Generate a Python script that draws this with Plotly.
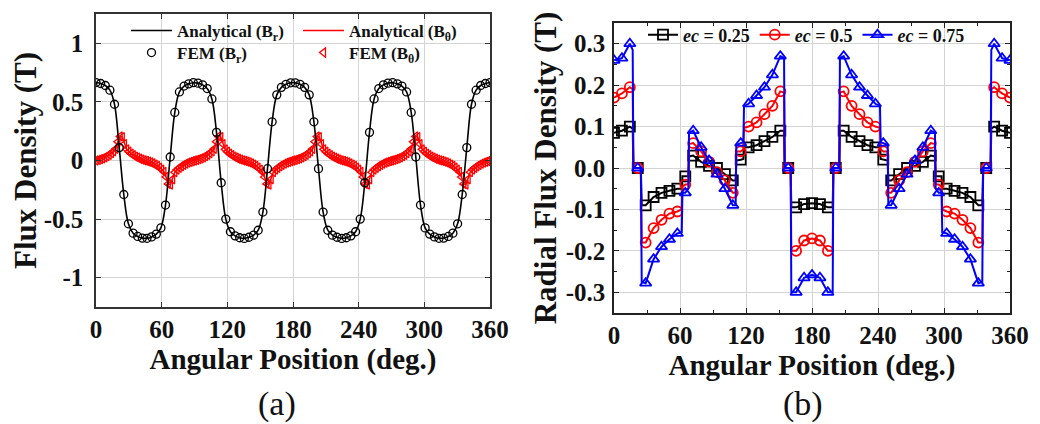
import plotly.graph_objects as go

# ---------------- Panel (a): analytical vs FEM ----------------
theta_br = [0, 4.2, 8.5, 12.7, 16.9, 21.2, 25.4, 29.6, 33.9, 38.1, 42.4, 46.6, 50.8, 55.1,
            59.3, 63.5, 67.8, 72.0, 76.2, 80.5, 84.7, 88.9, 93.2, 97.4, 101.6, 105.9, 110.1,
            114.4, 118.6, 122.8, 127.1, 131.3, 135.5, 139.8, 144.0, 148.2, 152.5, 156.7, 160.9,
            165.2, 169.4, 173.6, 177.9, 182.1, 186.4, 190.6, 194.8, 199.1, 203.3, 207.5, 211.8,
            216.0, 220.2, 224.5, 228.7, 232.9, 237.2, 241.4, 245.6, 249.9, 254.1, 258.4, 262.6,
            266.8, 271.1, 275.3, 279.5, 283.8, 288.0, 292.2, 296.5, 300.7, 304.9, 309.2, 313.4,
            317.6, 321.9, 326.1, 330.4, 334.6, 338.8, 343.1, 347.3, 351.5, 355.8, 360.0]

br_analytical = [0.665, 0.657, 0.64, 0.60, 0.48, 0.11, -0.29, -0.54, -0.62, -0.648, -0.662,
                 -0.664, -0.652, -0.628, -0.575, -0.38, 0.03, 0.41, 0.585, 0.635, 0.654, 0.664,
                 0.66, 0.645, 0.614, 0.525, 0.24, -0.19, -0.50, -0.608, -0.643, -0.659, -0.665,
                 -0.655, -0.637, -0.595, -0.44, -0.07, 0.33, 0.56, 0.624, 0.65, 0.663, 0.663,
                 0.65, 0.624, 0.56, 0.33, -0.07, -0.44, -0.595, -0.637, -0.655, -0.665, -0.659,
                 -0.643, -0.608, -0.50, -0.19, 0.24, 0.525, 0.614, 0.645, 0.66, 0.664, 0.654,
                 0.635, 0.585, 0.41, 0.03, -0.38, -0.575, -0.628, -0.652, -0.664, -0.662, -0.648,
                 -0.62, -0.54, -0.29, 0.11, 0.48, 0.60, 0.64, 0.657, 0.665]
br_fem = list(br_analytical)

theta_bt = list(range(0, 361, 2))
bt_analytical = [
    0, .005, .011, .018, .027, .037, .049, .062, .078, .10, .16, .205, .20, .14, .095, .075,
    .058, .045, .034, .024, .015, .008, .002, -.003, -.009, -.016, -.025, -.035, -.046, -.06,
    -.077, -.097, -.14, -.20, -.205, -.16, -.10, -.078, -.062, -.049, -.037, -.027, -.018,
    -.011, -.005,
    0, .005, .011, .018, .027, .037, .049, .062, .078, .10, .16, .205, .20, .14, .095, .075,
    .058, .045, .034, .024, .015, .008, .002, -.003, -.009, -.016, -.025, -.035, -.046, -.06,
    -.077, -.097, -.14, -.20, -.205, -.16, -.10, -.078, -.062, -.049, -.037, -.027, -.018,
    -.011, -.005,
    0, .005, .011, .018, .027, .037, .049, .062, .078, .10, .16, .205, .20, .14, .095, .075,
    .058, .045, .034, .024, .015, .008, .002, -.003, -.009, -.016, -.025, -.035, -.046, -.06,
    -.077, -.097, -.14, -.20, -.205, -.16, -.10, -.078, -.062, -.049, -.037, -.027, -.018,
    -.011, -.005,
    0, .005, .011, .018, .027, .037, .049, .062, .078, .10, .16, .205, .20, .14, .095, .075,
    .058, .045, .034, .024, .015, .008, .002, -.003, -.009, -.016, -.025, -.035, -.046, -.06,
    -.077, -.097, -.14, -.20, -.205, -.16, -.10, -.078, -.062, -.049, -.037, -.027, -.018,
    -.011, -.005,
    0]
bt_fem = list(bt_analytical)

y_ticks_a = [-1, -0.5, 0, 0.5, 1]
y_ticktext_a = ["-1", "-0.5", "0", "0.5", "1"]
x_ticks = [0, 60, 120, 180, 240, 300, 360]
x_ticktext = ["0", "60", "120", "180", "240", "300", "360"]

# ---------------- Panel (b): eccentricity ----------------
theta_m = [0, 7.2, 14.4, 21.6, 28.8, 36, 43.2, 50.4, 57.6, 64.8, 72, 79.2, 86.4, 93.6, 100.8,
           108, 115.2, 122.4, 129.6, 136.8, 144, 151.2, 158.4, 165.6, 172.8, 180, 187.2, 194.4,
           201.6, 208.8, 216, 223.2, 230.4, 237.6, 244.8, 252, 259.2, 266.4, 273.6, 280.8, 288,
           295.2, 302.4, 309.6, 316.8, 324, 331.2, 338.4, 345.6, 352.8, 360]
b_ec075 = [0.26, 0.265, 0.30, 0.0, -0.278, -0.22, -0.19, -0.172, -0.158, -0.06, 0.09, 0.05,
           0.018, -0.015, -0.05, -0.09, 0.06, 0.155, 0.175, 0.195, 0.225, 0.27, 0.0, -0.30,
           -0.265, -0.258, -0.265, -0.30, 0.0, 0.27, 0.225, 0.195, 0.175, 0.155, 0.06, -0.09,
           -0.05, -0.015, 0.018, 0.05, 0.09, -0.06, -0.158, -0.172, -0.19, -0.22, -0.278, 0.0,
           0.30, 0.265, 0.26]
b_ec05 = [0.17, 0.18, 0.195, 0.0, -0.18, -0.145, -0.125, -0.11, -0.105, -0.04, 0.06, 0.04,
          0.015, -0.01, -0.03, -0.06, 0.04, 0.10, 0.11, 0.13, 0.15, 0.185, 0.0, -0.20, -0.175,
          -0.17, -0.175, -0.20, 0.0, 0.185, 0.15, 0.13, 0.11, 0.10, 0.04, -0.06, -0.03, -0.01,
          0.015, 0.04, 0.06, -0.04, -0.105, -0.11, -0.125, -0.145, -0.18, 0.0, 0.195, 0.18, 0.17]
b_ec025 = [0.085, 0.09, 0.10, 0.0, -0.09, -0.07, -0.06, -0.055, -0.05, -0.02, 0.03, 0.015,
           0.005, 0.0, -0.015, -0.03, 0.02, 0.05, 0.055, 0.065, 0.075, 0.09, 0.0, -0.095,
           -0.087, -0.085, -0.087, -0.095, 0.0, 0.09, 0.075, 0.065, 0.055, 0.05, 0.02, -0.03,
           -0.015, 0.0, 0.005, 0.015, 0.03, -0.02, -0.05, -0.055, -0.06, -0.07, -0.09, 0.0,
           0.10, 0.09, 0.085]

# extra line vertices at the steep slot-edge transitions (between markers)
theta_t = [17.0, 17.6, 24.4, 25.2, 61.6, 62.2, 67.6, 68.2, 110.6, 111.2, 117.6, 118.2,
           154.6, 155.2, 160.6, 161.2, 198.8, 199.4, 204.8, 205.4, 241.8, 242.4, 248.8, 249.4,
           291.8, 292.4, 297.8, 298.4, 334.8, 335.6, 342.4, 343.0]
t_ec075 = [0.285, 0, 0, -0.275, -0.155, -0.06, -0.05, 0.085, -0.09, 0.055, 0.062, 0.15,
           0.265, 0, 0, -0.30, -0.30, 0, 0, 0.265, 0.15, 0.062, 0.055, -0.09, 0.085, -0.05,
           -0.06, -0.155, -0.275, 0, 0, 0.285]
t_ec05 = [0.19, 0, 0, -0.18, -0.10, -0.045, -0.04, 0.058, -0.06, 0.04, 0.045, 0.097, 0.182,
          0, 0, -0.20, -0.20, 0, 0, 0.182, 0.097, 0.045, 0.04, -0.06, 0.058, -0.04, -0.045,
          -0.10, -0.18, 0, 0, 0.19]
t_ec025 = [0.095, 0, 0, -0.09, -0.05, -0.02, -0.02, 0.028, -0.03, 0.018, 0.022, 0.05, 0.09,
           0, 0, -0.095, -0.095, 0, 0, 0.09, 0.05, 0.022, 0.018, -0.03, 0.028, -0.02, -0.02,
           -0.05, -0.09, 0, 0, 0.095]

y_ticks_b = [-0.3, -0.2, -0.1, 0.0, 0.1, 0.2, 0.3]
y_ticktext_b = ["-0.3", "-0.2", "-0.1", "0.0", "0.1", "0.2", "0.3"]

series_b = [
    ("<i>ec</i> = 0.25", b_ec025, t_ec025, "#000000", "square-open"),
    ("<i>ec</i> = 0.5", b_ec05, t_ec05, "#ff0000", "circle-open"),
    ("<i>ec</i> = 0.75", b_ec075, t_ec075, "#0000ff", "triangle-up-open"),
]


def merged(xa, ya, xb, yb):
    pts = sorted(zip(list(xa) + list(xb), list(ya) + list(yb)))
    return [p[0] for p in pts], [p[1] for p in pts]


# page body has an 8px margin: work in window pixels and convert
OFF = 8
W, H = 1040 - OFF, 424 - OFF


def fx(px):
    return (px - OFF) / W


def fy(py):
    return 1 - (py - OFF) / H


SERIF = "Liberation Serif"
fig = go.Figure()

# panel (a)
fig.add_trace(go.Scatter(x=theta_bt, y=bt_analytical, mode="lines",
                         line=dict(color="#ff0000", width=1.5),
                         name="Analytical (B<sub>θ</sub>)", legend="legend", legendrank=2,
                         xaxis="x", yaxis="y"))
fig.add_trace(go.Scatter(x=theta_bt, y=bt_fem, mode="markers",
                         marker=dict(symbol="triangle-left-open", size=8, color="#ff0000",
                                     line=dict(width=1.3)),
                         name="FEM (B<sub>θ</sub>)", legend="legend2", legendrank=2,
                         xaxis="x", yaxis="y"))
fig.add_trace(go.Scatter(x=theta_br, y=br_analytical, mode="lines", line_shape="spline",
                         line=dict(color="#000000", width=1.6),
                         name="Analytical (B<sub>r</sub>)", legend="legend", legendrank=1,
                         xaxis="x", yaxis="y"))
fig.add_trace(go.Scatter(x=theta_br, y=br_fem, mode="markers",
                         marker=dict(symbol="circle-open", size=8, color="#000000",
                                     line=dict(width=1.3)),
                         name="FEM (B<sub>r</sub>)", legend="legend2", legendrank=1,
                         xaxis="x", yaxis="y"))

# panel (b)
for name, ym, yt, col, sym in series_b:
    lx, ly = merged(theta_m, ym, theta_t, yt)
    fig.add_trace(go.Scatter(x=lx, y=ly, mode="lines", line=dict(color=col, width=2),
                             showlegend=False, xaxis="x2", yaxis="y2", hoverinfo="skip"))
    fig.add_trace(go.Scatter(x=theta_m, y=ym, mode="markers",
                             marker=dict(symbol=sym, size=10, color=col, line=dict(width=1.8)),
                             showlegend=False, xaxis="x2", yaxis="y2", name=name))
    fig.add_trace(go.Scatter(x=[None], y=[None], mode="lines+markers", name=name,
                             line=dict(color=col, width=2),
                             marker=dict(symbol=sym, size=10, color=col, line=dict(width=1.8)),
                             legend="legend3", xaxis="x2", yaxis="y2"))

tick_font = dict(family=SERIF, size=25, color="#111111", weight="bold")
xtitle_font = dict(family=SERIF, size=29, color="#111111", weight="bold")
ytitle_font = dict(family=SERIF, size=31, color="#111111", weight="bold")
common_x = dict(range=[0, 360], tickmode="array", tickvals=x_ticks, ticktext=x_ticktext,
                showgrid=True, gridcolor="#d4d4d4", gridwidth=1, zeroline=False,
                showline=True, mirror="ticks", ticks="inside", ticklen=5,
                tickfont=tick_font, automargin=False, ticklabelstandoff=-1,
                title=dict(text="Angular Position (deg.)", font=xtitle_font, standoff=6))
legend_font_a = dict(family=SERIF, size=17, color="#111111", weight="bold")

fig.update_layout(
    width=W, height=H,
    margin=dict(l=0, r=0, t=0, b=0),
    paper_bgcolor="white", plot_bgcolor="white",
    showlegend=True,
    xaxis=dict(domain=[fx(96), fx(490)], anchor="y", linecolor="#333333",
               linewidth=1.5, tickcolor="#333333", **common_x),
    yaxis=dict(domain=[fy(307), fy(14)], anchor="x", range=[-1.25, 1.25],
               tickmode="array", tickvals=y_ticks_a, ticktext=y_ticktext_a,
               showgrid=True, gridcolor="#d4d4d4", zeroline=False, showline=True,
               linecolor="#333333", linewidth=1.5, mirror="ticks", ticks="inside",
               ticklen=5, tickcolor="#333333", tickfont=tick_font, automargin=False,
               ticklabelstandoff=6,
               title=dict(text="Flux Density (T)", font=ytitle_font, standoff=0)),
    xaxis2=dict(domain=[fx(614), fx(1010)], anchor="y2", linecolor="#222222",
                linewidth=1.5, tickcolor="#222222",
                minor=dict(ticks="inside", ticklen=3, tickmode="linear", tick0=0, dtick=30,
                           showgrid=False, tickcolor="#222222"),
                **common_x),
    yaxis2=dict(domain=[fy(313), fy(23)], anchor="x2", range=[-0.35, 0.35],
                tickmode="array", tickvals=y_ticks_b, ticktext=y_ticktext_b,
                showgrid=True, gridcolor="#d4d4d4", zeroline=False, showline=True,
                linecolor="#222222", linewidth=1.5, mirror="ticks", ticks="inside",
                ticklen=5, tickcolor="#222222", tickfont=tick_font, automargin=False,
                ticklabelstandoff=2,
                minor=dict(ticks="inside", ticklen=3, tickmode="linear", tick0=0, dtick=0.05,
                           showgrid=False, tickcolor="#222222"),
                title=dict(text="Radial Flux Density (T)", font=ytitle_font, standoff=0)),
    legend=dict(x=fx(126), y=fy(31), xanchor="left", yanchor="middle",
                orientation="h", itemwidth=41, entrywidth=116, bgcolor="rgba(0,0,0,0)",
                borderwidth=0, font=legend_font_a),
    legend2=dict(x=fx(126), y=fy(53), xanchor="left", yanchor="middle",
                 orientation="h", itemwidth=41, entrywidth=116, bgcolor="rgba(0,0,0,0)",
                 borderwidth=0, font=legend_font_a),
    legend3=dict(x=fx(643), y=fy(35), xanchor="left", yanchor="middle",
                 orientation="h", bgcolor="rgba(0,0,0,0)", borderwidth=0,
                 font=dict(family=SERIF, size=18, color="#111111", weight="bold")),
    annotations=[
        dict(text="(a)", x=fx(277), y=fy(404), xref="paper", yref="paper",
             xanchor="center", yanchor="middle", showarrow=False,
             font=dict(family=SERIF, size=34, color="#111111")),
        dict(text="(b)", x=fx(803), y=fy(404), xref="paper", yref="paper",
             xanchor="center", yanchor="middle", showarrow=False,
             font=dict(family=SERIF, size=34, color="#111111")),
    ],
)

fig.write_html("out.html")
